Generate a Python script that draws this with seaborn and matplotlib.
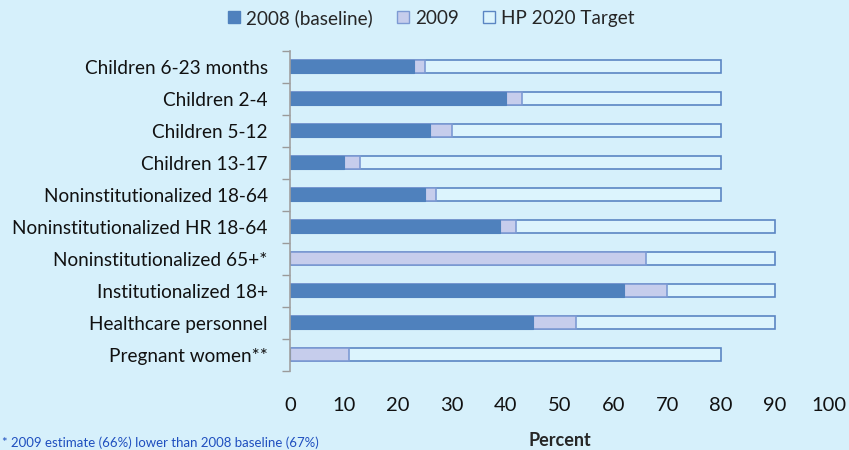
import numpy as np
import pandas as pd
import matplotlib
matplotlib.use("Agg")
import matplotlib.pyplot as plt
import seaborn as sns
from matplotlib.patches import Patch

# data
groups = ["Children 6-23 months", "Children 2-4", "Children 5-12", "Children 13-17",
          "Noninstitutionalized 18-64", "Noninstitutionalized HR 18-64",
          "Noninstitutionalized 65+*", "Institutionalized 18+",
          "Healthcare personnel", "Pregnant women**"]
baseline_2008 = [23, 40, 26, 10, 25, 39, 0, 62, 45, 0]
estimate_2009 = [25, 43, 30, 13, 27, 42, 66, 70, 53, 11]
target_2020 = [80, 80, 80, 80, 80, 90, 90, 90, 90, 80]

df = pd.DataFrame({"group": groups, "b2008": baseline_2008,
                   "e2009": estimate_2009, "target": target_2020})

sns.set_theme(style="white")
plt.rcParams["font.family"] = ["Lato", "DejaVu Sans"]

bg = "#d6f0fb"
fig = plt.figure(figsize=(8.49, 4.5), dpi=100, facecolor=bg)
ax = fig.add_axes([0.3416, 0.176, 0.6349, 0.711])
ax.set_facecolor(bg)

# overlapping bars: target at the back, then 2009, then 2008
sns.barplot(data=df, y="group", x="target", orient="h", color="#dcf4fd",
            edgecolor="#5b86c3", linewidth=1.2, width=0.41, ax=ax, saturation=1)
sns.barplot(data=df, y="group", x="e2009", orient="h", color="#c6cdec",
            edgecolor="#7d9ad3", linewidth=1.2, width=0.41, ax=ax, saturation=1)
sns.barplot(data=df, y="group", x="b2008", orient="h", color="#4f81bd",
            edgecolor="#4f81bd", linewidth=0.8, width=0.41, ax=ax, saturation=1)

ax.set_xlim(0, 100)
ax.set_ylim(9.5, -0.5)
ax.set_xticks(np.arange(0, 101, 10))
ax.set_ylabel("")
ax.set_xlabel("Percent", fontsize=13, fontweight="bold", labelpad=13)
ax.tick_params(axis="x", length=0, pad=19, labelsize=14.5, labelcolor="#111111")
ax.set_yticks(np.arange(-0.5, 10, 1), minor=True)
ax.set_yticks(range(len(groups)))
ax.set_yticklabels(groups)
ax.tick_params(axis="y", which="major", length=0, pad=16, labelsize=13.7,
               labelcolor="#111111")
ax.tick_params(axis="y", which="minor", length=6, width=1, color="#9a9a9a", left=True)
for s in ["top", "right", "bottom"]:
    ax.spines[s].set_visible(False)
ax.spines["left"].set_color("#a0a0a0")
ax.spines["left"].set_linewidth(1.2)

handles = [Patch(facecolor="#4f81bd", edgecolor="#4f81bd", label="2008 (baseline)"),
           Patch(facecolor="#c6cdec", edgecolor="#7d9ad3", label="2009"),
           Patch(facecolor="#dcf4fd", edgecolor="#5b86c3", label="HP 2020 Target")]
fig.legend(handles=handles, loc="center", bbox_to_anchor=(0.508, 0.96), ncol=3,
           frameon=False, fontsize=13.6, handlelength=0.63, handleheight=0.63,
           handletextpad=0.32, columnspacing=1.3)

fig.text(0.002, 0.002, "* 2009 estimate (66%) lower than 2008 baseline (67%)",
         fontsize=9.5, color="#1f4fbf", va="bottom", ha="left")

fig.savefig("out.png", dpi=100, facecolor=bg)
